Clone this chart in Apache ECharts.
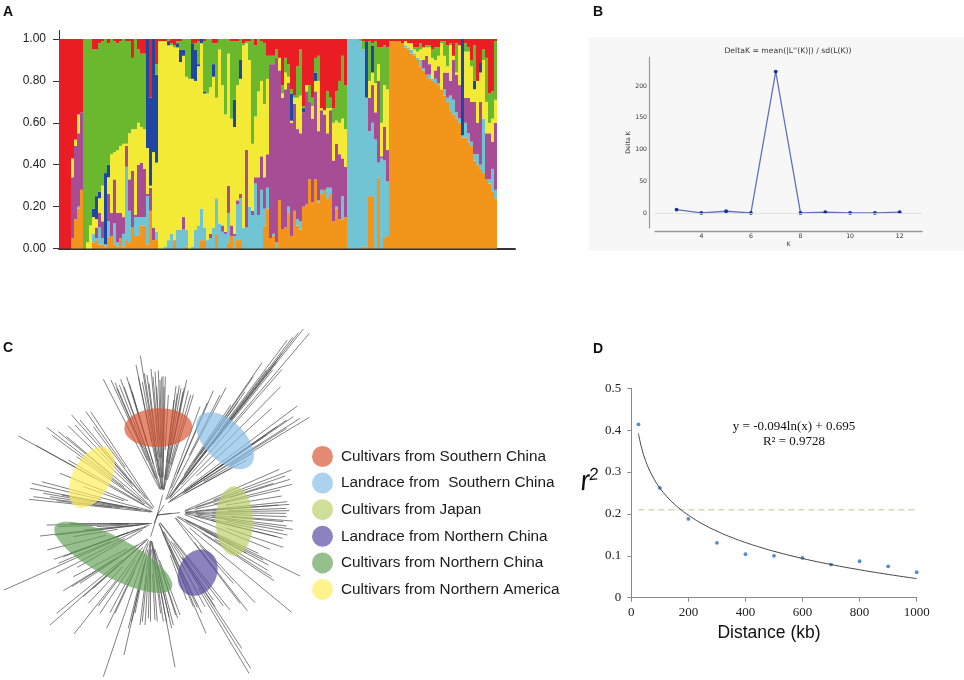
<!DOCTYPE html>
<html><head><meta charset="utf-8">
<style>html,body{margin:0;padding:0;background:#fff}#c{width:964px;height:680px}</style>
<script src="https://cdn.jsdelivr.net/npm/echarts@6/dist/echarts.min.js"></script>
</head><body><div id="c"></div>
<script>
// Panel A: cumulative tops (percent) of each ancestry band per accession; red fills up to 100
const orangeTop=[0,0,0,0,5,14,19,28,0,0, 0,3,4,2,2,1,5,6,2,1, 5,1,4,3,10,6,6,11,11,2, 18,4,4,0,0,0,0,0,4,0,
 0,0,1,0,0,0,0,4,4,0, 0,0,7,0,0,0,3,6,0,4, 4,0,0,0,0,0,0,0,11,19, 5,6,0,23,9,10,17,6,18,11,
 9,20,21,33,22,33,22,26,28,24, 26,13,19,14,14,15,0,0,0,0, 0,1,0,25,25,0,34,0,5,6, 99,99,99,99,98,96,95,93,92,90,
 87,85,83,81,80,79,78,76,73,70, 66,64,62,60,53,53,51,49,42,40, 38,36,33,31,27,24];
const cyanTop=[0,0,0,0,5,14,20,28,0,0, 0,7,5,10,5,2,13,6,12,3, 5,7,39,18,10,15,15,15,15,25, 18,4,8,0,0,1,4,7,4,9,
 9,9,9,0,1,9,11,19,10,4, 5,10,24,12,8,7,17,6,6,21, 24,10,10,20,16,31,16,28,19,29, 5,7,3,23,9,10,20,6,18,14,
 13,20,21,33,22,33,23,28,28,29, 29,13,20,14,25,15,100,100,100,100, 99,95,72,56,60,52,41,43,42,32, 99,99,99,99,98,97,96,95,93,91,
 90,86,83,83,81,81,79,76,76,72, 73,71,65,62,54,60,55,51,45,45, 40,62,33,33,38,28];
const purpleTop=[0,0,0,0,34,49,55,65,0,0, 0,7,10,17,13,2,26,17,33,17, 17,15,49,33,37,16,40,41,38,26, 29,10,8,0,0,1,4,7,4,9,
 9,15,9,0,1,9,11,19,10,4, 7,10,24,12,11,8,30,11,7,23, 26,10,47,20,18,34,34,44,34,45, 88,88,91,85,72,76,79,60,69,57,
 55,65,75,70,62,75,56,66,64,55, 66,42,50,45,43,39,100,100,100,100, 99,95,72,72,78,65,80,44,58,47, 99,99,99,99,98,97,96,95,93,91,
 90,90,92,88,81,85,87,76,84,84, 80,90,83,78,54,72,72,70,70,60, 70,62,55,55,51,60];
const yellowTop=[0,0,0,0,43,52,64,65,0,3, 11,15,14,24,30,2,34,45,46,47, 49,50,50,55,57,57,60,58,57,48, 30,46,41,99,99,99,97,97,96,96,
 89,92,82,81,81,80,87,98,74,74, 77,82,72,95,78,64,93,62,58,78, 81,97,98,90,50,63,75,80,69,81, 88,88,91,91,74,84,82,61,72,72,
 73,65,78,70,68,80,80,67,66,67, 67,60,61,60,62,57,100,100,100,100, 99,95,72,80,84,79,88,60,78,76, 99,99,99,99,98,99,98,98,95,94,
 95,96,96,96,91,90,92,98,92,87, 97,92,84,97,54,94,94,87,76,80, 84,90,70,60,62,71];
const navyTop=[0,0,0,0,43,52,64,65,0,3, 11,19,25,27,30,36,40,45,46,47, 49,50,50,55,57,57,60,58,57,100, 72,100,83,99,99,99,99,97,96,98,
 95,95,82,81,98,95,88,100,75,74, 77,88,72,95,78,64,93,62,71,78, 90,97,98,90,50,63,75,80,69,81, 88,88,91,91,74,84,82,74,72,72,
 73,67,78,70,68,84,80,67,66,67, 67,60,61,60,62,57,100,100,100,100, 99,95,99,80,97,79,88,60,78,76, 99,99,99,99,98,99,98,98,95,94,
 95,96,96,96,91,90,92,98,92,87, 97,92,84,97,100,94,94,87,80,80, 89,90,70,60,62,71];
const greenTop=[0,0,0,0,43,52,64,65,100,100, 100,95,95,98,99,100,98,100,99,98, 99,100,99,99,91,100,95,93,93,100, 72,100,88,99,99,99,100,98,97,99,
 99,100,100,100,98,98,99,100,99,100, 100,98,98,100,100,100,100,99,99,99, 100,98,99,99,100,97,100,99,98,92, 92,92,95,91,78,91,88,76,73,87,
 95,68,78,78,72,91,92,67,66,75, 72,67,75,80,92,78,100,100,100,100, 100,99,99,99,98,99,96,96,97,96, 99,99,99,99,98,99,98,98,96,96,
 98,96,97,97,95,96,96,99,99,97, 98,92,98,97,100,98,96,90,97,80, 89,95,91,74,75,99];
const accessionSlots=152; // axis runs on past the last bar
const yTicksA=[0,0.2,0.4,0.6,0.8,1];

// Panel B: Delta K
const kValues=[3,4,5,6,7,8,9,10,11,12];
const deltaK=[5.3,0,2.7,0,223,0,1.2,0,0,1.2];
const xTicksB=[4,6,8,10,12];
const yTicksB=[0,50,100,150,200];

// Panel C: unrooted tree, tree units. Node then tip positions per clade
const treeCentre=[472,585];
const northNode=[488,525];
const northTips=[[310,178],[333,180],[345,188],[350,205],[358,195],[362,178],[372,200],[380,170],[388,190],[396,215],[408,135],[415,170],[421,107],[427,185],[433,160],[441,165],[447,190],[453,147],[459,170],[465,155],[470,200],[475,152],[480,180],[485,172],[489,168],[492,200],[496,170],[505,225],[522,240],[528,198],[532,220],[538,196],[543,205],[549,215],[553,203],[560,180],[565,212],[572,225],[580,224]];
const neNode=[492,555];
const neTips=[[600,260],[622,248],[640,212],[660,225],[678,203],[692,255],[715,245],[735,215],[760,170],[786,128],[800,150],[818,150],[830,125],[846,100],[846,148],[862,60],[878,52],[895,38],[910,27],[928,40],[842,200],[815,265],[892,258],[928,292],[880,290],[860,300],[860,325],[830,320],[800,345],[760,370],[900,295],[757,400],[740,420],[700,440]];
const eastNode=[540,578];
const eastTips=[[838,448],[875,450],[856,468],[870,478],[820,490],[876,493],[840,510],[845,528],[862,545],[868,553],[835,555],[860,565],[868,572],[858,580],[860,590],[878,603],[850,605],[860,618],[878,628],[850,632],[862,645],[848,655],[830,650],[850,682],[810,688]];
const seNode=[515,580];
const seTips=[[900,768],[822,782],[805,735],[802,750],[815,770],[790,720],[775,700],[740,700],[765,848],[742,872],[875,877],[700,790],[720,850]];
const sseNode=[470,595];
const sseTips=[[618,940],[725,985],[752,1045],[747,1060],[605,880],[592,862],[615,860],[645,860],[670,858],[640,840],[580,860],[560,840],[690,870]];
const southNode=[452,650];
const southTips=[[525,1042],[540,885],[533,895],[527,885],[520,915],[515,925],[507,890],[500,908],[490,905],[482,880],[472,905],[465,900],[452,905],[445,895],[435,915],[427,905],[420,915],[405,880],[395,905],[372,1005],[310,1070],[385,925],[320,925],[345,880],[330,878],[300,880],[295,858],[222,942],[150,915],[170,880],[190,812],[215,800],[240,790],[220,770],[250,830],[265,850],[280,805]];
const swNode=[462,610];
const swTips=[[12,810],[170,760],[162,718],[142,690],[120,648],[140,615],[232,742],[175,730],[190,710],[210,700],[165,645],[220,650],[175,620],[210,610],[250,630],[290,620],[330,610]];
const westNode=[472,578];
const westTips=[[87,538],[100,530],[90,505],[95,490],[125,485],[130,520],[150,530],[170,542],[185,525],[180,460],[205,420],[55,348],[108,376],[140,322],[155,345],[175,335],[205,318],[215,285],[240,300],[258,275],[272,275],[300,380],[230,410],[250,500],[200,350],[225,315],[280,320]];
const branchStart=[0.05,0.3,0.15,0.45]; // where a terminal branch leaves its clade stem

// Panel C groups: name, ellipse [cx, cy, semi-axis a, semi-axis b, tilt degrees]
const groupNames=['Cultivars from Southern China','Landrace from  Southern China','Cultivars from Japan','Landrace from Northern China','Cultivars from Northern China','Cultivars from Northern America'];
const groupEllipses=[[475,323,102,58,-2],[675,362,106,60,44],[703,603,56,104,0],[593,758,57,72,25],[340,712,198,60,28],[275,472,100,57,-62]];
const groupColors=['rgba(216,82,48,.68)','rgba(133,189,230,.68)','rgba(184,208,102,.68)','rgba(86,71,158,.68)','rgba(99,162,87,.68)','rgba(255,237,90,.68)'];

// Panel D: LD decay
const distanceKb=[25,100,200,300,400,500,600,700,800,900,1000];
const r2Values=[0.414,0.262,0.188,0.131,0.104,0.100,0.095,0.079,0.087,0.075,0.061];
const fitKb=[25,30,40,50,60,80,100,125,150,175,200,250,300,350,400,450,500,600,700,800,900,1000];
const fitR2=[0.3924,0.3753,0.3482,0.3273,0.3101,0.2831,0.2621,0.2411,0.2240,0.2095,0.1970,0.1760,0.1589,0.1443,0.1318,0.1208,0.1108,0.0937,0.0792,0.0667,0.0556,0.0457];
const thresholdLine=[[25,0.21],[1000,0.21]];

const sans='Liberation Sans', serif='Liberation Serif', dejavu='DejaVu Sans';

const bands=[['orange',orangeTop,'#f2951a',null],['cyan',cyanTop,'#70c4d4',orangeTop],['purple',purpleTop,'#a64d96',cyanTop],
 ['yellow',yellowTop,'#f2ea34',purpleTop],['navy',navyTop,'#1f46a0',yellowTop],['green',greenTop,'#6ab82e',navyTop],['red',null,'#ea1c24',greenTop]];
const barSeries=bands.map(([name,top,color,below])=>({
  name:'band-'+name,type:'bar',stack:'k',xAxisIndex:0,yAxisIndex:0,barWidth:'100%',barCategoryGap:'0%',silent:true,animation:false,
  itemStyle:{color},
  data:orangeTop.map((_,i)=>((top?top[i]:100)-(below?below[i]:0))/100)
}));

const treeSegs=[];
[[northNode,northTips],[neNode,neTips],[eastNode,eastTips],[seNode,seTips],[sseNode,sseTips],[southNode,southTips],[swNode,swTips],[westNode,westTips]].forEach(([n,tips])=>{
  treeSegs.push({coords:[treeCentre,n]});
  tips.forEach((t,i)=>{const f=branchStart[i%branchStart.length];
    treeSegs.push({coords:[[n[0]+(t[0]-n[0])*f,n[1]+(t[1]-n[1])*f],t]});});
});

const ellipseSeries=groupNames.map((name,i)=>({
  name,type:'custom',coordinateSystem:'cartesian2d',xAxisIndex:3,yAxisIndex:3,z:4,silent:true,animation:false,clip:false,
  itemStyle:{color:groupColors[i]},
  data:[groupEllipses[i]],encode:{x:0,y:1},
  renderItem(p,api){
    const cx=api.value(0),cy=api.value(1),a=api.value(2),b=api.value(3),t=api.value(4)*Math.PI/180,pts=[];
    for(let k=0;k<72;k++){const u=k/72*2*Math.PI,ex=a*Math.cos(u),ey=b*Math.sin(u);
      pts.push(api.coord([cx+ex*Math.cos(t)-ey*Math.sin(t),cy+ex*Math.sin(t)+ey*Math.cos(t)]));}
    return {type:'polygon',shape:{points:pts},style:{fill:api.visual('color')}};
  }
}));

const letter={fontFamily:sans,fontWeight:'bold',fontSize:14,color:'#111'};
const eq={fontFamily:serif,fontSize:13,fontWeight:'normal',color:'#111'};
const chart=echarts.init(document.getElementById('c'),null,{renderer:'canvas'});
chart.setOption({
  animation:false,backgroundColor:'#fff',
  graphic:[
    {type:'rect',z:-1,shape:{x:589,y:37,width:375,height:214},style:{fill:'#f7f7f7'},silent:true},
    {type:'text',x:579,y:468,rotation:0.1,silent:true,style:{text:'{r|r}{s|2}',rich:{r:{fontStyle:'italic',fontFamily:sans,fontSize:28,fill:'#111'},s:{fontStyle:'italic',fontFamily:sans,fontSize:17,fill:'#111',verticalAlign:'top',padding:[0,0,12,0]}}}}
  ],
  title:[
    {text:'A',left:3,top:5,padding:0,textStyle:letter},
    {text:'B',left:593,top:5,padding:0,textStyle:letter},
    {text:'C',left:3,top:341,padding:0,textStyle:letter},
    {text:'D',left:593,top:342,padding:0,textStyle:letter},
    {text:"DeltaK = mean(|L''(K)|) / sd(L(K))",left:788,top:47,padding:0,textAlign:'center',textStyle:{fontFamily:dejavu,fontSize:7.7,fontWeight:'normal',color:'#333'}},
    {text:'y = -0.094ln(x) + 0.695',left:794,top:420,padding:0,textAlign:'center',textStyle:eq},
    {text:'R² = 0.9728',left:794,top:435,padding:0,textAlign:'center',textStyle:eq}
  ],
  legend:{show:true,data:groupNames,left:312,top:446,padding:0,orient:'vertical',icon:'circle',itemWidth:21,itemHeight:21,itemGap:5.6,selectedMode:false,
    textStyle:{fontFamily:sans,fontSize:15.3,color:'#1a1a1a',padding:[0,0,0,3]}},
  grid:[
    {left:59,top:30.5,width:456,height:218},
    {left:655,top:57,width:267,height:171},
    {left:631.3,top:388.3,width:285.4,height:209.4},
    {left:0,top:320,width:310,height:360}
  ],
  xAxis:[
    {gridIndex:0,type:'category',data:Array.from({length:accessionSlots},(_,i)=>i+1),boundaryGap:true,axisLine:{lineStyle:{color:'#333',width:2}},axisTick:{show:false},axisLabel:{show:false},splitLine:{show:false}},
    {gridIndex:1,type:'value',min:2.13,max:12.9,offset:3,name:'K',nameLocation:'middle',nameGap:10,nameTextStyle:{fontFamily:dejavu,fontSize:6.2,color:'#333'},
      axisLine:{onZero:false,lineStyle:{color:'#999',width:1.4}},axisTick:{show:false},splitLine:{show:false},
      axisLabel:{customValues:xTicksB,margin:2,fontFamily:dejavu,fontSize:6.2,color:'#333'}},
    {gridIndex:2,type:'value',min:0,max:1000,interval:200,name:'Distance (kb)',nameLocation:'middle',nameGap:26,nameTextStyle:{fontFamily:sans,fontSize:17.5,color:'#111',padding:[0,10,0,0]},
      axisLine:{lineStyle:{color:'#8a8a8a'}},axisTick:{length:4,lineStyle:{color:'#8a8a8a'}},splitLine:{show:false},
      axisLabel:{margin:8,formatter:v=>String(v),fontFamily:serif,fontSize:13,color:'#222'}},
    {gridIndex:3,type:'value',min:0,max:930,show:false,splitLine:{show:false}}
  ],
  yAxis:[
    {gridIndex:0,type:'value',min:0,max:1.0407,axisLine:{show:true,lineStyle:{color:'#333',width:1}},splitLine:{show:false},
      axisTick:{show:true,length:6,customValues:yTicksA,lineStyle:{color:'#333'}},
      axisLabel:{customValues:yTicksA,margin:13,formatter:v=>v.toFixed(2),fontFamily:sans,fontSize:12,color:'#222'}},
    {gridIndex:1,type:'value',min:-23.7,max:246,offset:6,name:'Delta K',nameLocation:'middle',nameRotate:90,nameGap:14,nameTextStyle:{fontFamily:dejavu,fontSize:6.2,color:'#333'},
      axisLine:{show:true,onZero:false,lineStyle:{color:'#999',width:1.2}},axisTick:{show:false},splitLine:{show:false},
      axisLabel:{customValues:yTicksB,margin:2,fontFamily:dejavu,fontSize:6.2,color:'#333'}},
    {gridIndex:2,type:'value',min:0,max:0.5,interval:0.1,axisLine:{show:true,lineStyle:{color:'#8a8a8a'}},axisTick:{show:true,length:4,lineStyle:{color:'#8a8a8a'}},splitLine:{show:false},
      axisLabel:{margin:10,fontFamily:serif,fontSize:13,color:'#222'}},
    {gridIndex:3,type:'value',min:0,max:1080,inverse:true,show:false,splitLine:{show:false}}
  ],
  series:[
    ...barSeries,
    {name:'Delta K',type:'line',xAxisIndex:1,yAxisIndex:1,silent:true,data:kValues.map((k,i)=>[k,deltaK[i]]),
      lineStyle:{color:'#6472bc',width:1.3},symbol:'circle',symbolSize:3.8,itemStyle:{color:'#14309a'},
      markLine:{silent:true,symbol:'none',label:{show:false},lineStyle:{color:'#dddddd',width:.8,type:'solid'},data:[{yAxis:0}]}},
    {name:'branches',type:'lines',coordinateSystem:'cartesian2d',xAxisIndex:3,yAxisIndex:3,z:2,silent:true,polyline:false,
      lineStyle:{color:'#444',width:.8,opacity:.85},data:treeSegs},
    ...ellipseSeries,
    {name:'threshold',type:'line',xAxisIndex:2,yAxisIndex:2,silent:true,symbol:'none',data:thresholdLine,lineStyle:{color:'#d8d6b4',width:1.4,type:[6,4]}},
    {name:'fit',type:'line',xAxisIndex:2,yAxisIndex:2,silent:true,symbol:'none',smooth:0.5,data:fitKb.map((x,i)=>[x,fitR2[i]]),lineStyle:{color:'#444',width:1}},
    {name:'r2',type:'scatter',xAxisIndex:2,yAxisIndex:2,silent:true,symbolSize:3.8,itemStyle:{color:'#2a6ebb'},data:distanceKb.map((x,i)=>[x,r2Values[i]])}
  ]
});
</script></body></html>
